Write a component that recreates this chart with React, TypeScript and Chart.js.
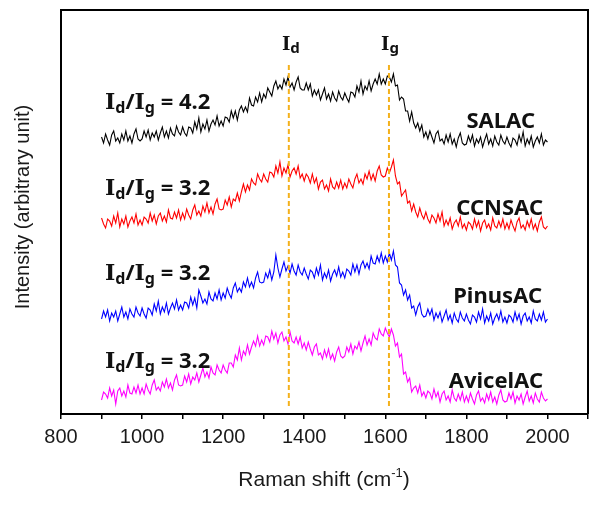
import React, { useEffect, useRef } from 'react';
import { Chart, registerables } from 'chart.js';

Chart.register(...registerables);

// Raman shift grid (cm-1), 5 cm-1 steps
const ramanShift = [
  900, 905, 910, 915, 920, 925, 930, 935, 940, 945, 950, 955, 960, 965, 970, 975, 980, 985, 990, 995,
  1000, 1005, 1010, 1015, 1020, 1025, 1030, 1035, 1040, 1045, 1050, 1055, 1060, 1065, 1070, 1075, 1080, 1085, 1090, 1095,
  1100, 1105, 1110, 1115, 1120, 1125, 1130, 1135, 1140, 1145, 1150, 1155, 1160, 1165, 1170, 1175, 1180, 1185, 1190, 1195,
  1200, 1205, 1210, 1215, 1220, 1225, 1230, 1235, 1240, 1245, 1250, 1255, 1260, 1265, 1270, 1275, 1280, 1285, 1290, 1295,
  1300, 1305, 1310, 1315, 1320, 1325, 1330, 1335, 1340, 1345, 1350, 1355, 1360, 1365, 1370, 1375, 1380, 1385, 1390, 1395,
  1400, 1405, 1410, 1415, 1420, 1425, 1430, 1435, 1440, 1445, 1450, 1455, 1460, 1465, 1470, 1475, 1480, 1485, 1490, 1495,
  1500, 1505, 1510, 1515, 1520, 1525, 1530, 1535, 1540, 1545, 1550, 1555, 1560, 1565, 1570, 1575, 1580, 1585, 1590, 1595,
  1600, 1605, 1610, 1615, 1620, 1625, 1630, 1635, 1640, 1645, 1650, 1655, 1660, 1665, 1670, 1675, 1680, 1685, 1690, 1695,
  1700, 1705, 1710, 1715, 1720, 1725, 1730, 1735, 1740, 1745, 1750, 1755, 1760, 1765, 1770, 1775, 1780, 1785, 1790, 1795,
  1800, 1805, 1810, 1815, 1820, 1825, 1830, 1835, 1840, 1845, 1850, 1855, 1860, 1865, 1870, 1875, 1880, 1885, 1890, 1895,
  1900, 1905, 1910, 1915, 1920, 1925, 1930, 1935, 1940, 1945, 1950, 1955, 1960, 1965, 1970, 1975, 1980, 1985, 1990, 1995,
  2000,
];

// Offset intensities (arbitrary unit)
const salac = [
  277, 271, 280, 274, 269, 279, 283, 273, 276, 271, 280, 274, 283, 273, 278, 271, 280, 285, 275, 273,
  275, 283, 277, 284, 274, 281, 277, 283, 274, 281, 287, 277, 283, 276, 286, 280, 278, 288, 282, 279,
  287, 281, 278, 287, 286, 281, 292, 285, 296, 282, 290, 285, 294, 283, 290, 294, 289, 298, 288, 293,
  288, 297, 296, 292, 303, 296, 303, 294, 304, 308, 302, 307, 302, 316, 309, 308, 317, 312, 321, 312,
  320, 316, 326, 322, 318, 328, 333, 325, 329, 325, 335, 329, 337, 327, 331, 324, 332, 337, 326, 324,
  324, 331, 324, 330, 318, 324, 319, 324, 314, 320, 326, 315, 320, 313, 322, 316, 313, 323, 317, 314,
  321, 316, 312, 322, 321, 317, 328, 322, 333, 320, 328, 324, 333, 323, 330, 335, 330, 340, 330, 335,
  330, 338, 337, 332, 340, 328, 329, 314, 317, 315, 303, 303, 293, 302, 291, 286, 291, 283, 289, 277,
  282, 275, 283, 277, 271, 280, 283, 273, 275, 270, 279, 272, 280, 270, 275, 267, 276, 281, 271, 269,
  270, 278, 272, 279, 268, 275, 271, 277, 267, 274, 280, 270, 275, 268, 278, 272, 269, 279, 273, 270,
  277, 271, 267, 276, 274, 269, 279, 272, 282, 268, 275, 270, 278, 267, 273, 277, 271, 280, 269, 274,
  272,
];

const ccnsac = [
  196, 190, 186, 195, 193, 188, 198, 191, 201, 187, 195, 190, 198, 187, 193, 197, 191, 200, 189, 194,
  189, 197, 195, 191, 201, 193, 199, 190, 198, 201, 193, 198, 192, 204, 196, 195, 202, 196, 204, 194,
  201, 195, 205, 199, 195, 204, 209, 199, 203, 198, 208, 202, 211, 201, 207, 200, 210, 215, 205, 204,
  205, 214, 209, 217, 207, 215, 213, 221, 213, 222, 230, 222, 229, 224, 235, 231, 229, 240, 235, 232,
  240, 235, 232, 242, 241, 237, 248, 241, 252, 238, 246, 241, 249, 237, 243, 246, 240, 248, 236, 240,
  233, 240, 237, 231, 240, 231, 236, 225, 232, 234, 225, 229, 223, 235, 227, 225, 232, 226, 234, 225,
  231, 226, 235, 230, 226, 235, 240, 231, 235, 230, 240, 235, 243, 234, 240, 233, 243, 248, 239, 237,
  238, 246, 241, 247, 254, 238, 230, 232, 218, 221, 224, 211, 213, 203, 210, 202, 197, 206, 199, 195,
  202, 195, 191, 199, 196, 191, 200, 193, 202, 188, 194, 189, 196, 185, 191, 194, 188, 197, 186, 190,
  184, 192, 190, 185, 195, 187, 193, 183, 191, 194, 186, 190, 184, 196, 188, 186, 193, 187, 195, 185,
  191, 185, 194, 188, 183, 192, 196, 186, 189, 184, 193, 187, 195, 185, 190, 183, 192, 197, 187, 185,
  188,
];

const pinusac = [
  95, 103, 97, 104, 93, 101, 97, 103, 93, 100, 107, 97, 102, 95, 105, 100, 97, 107, 101, 98,
  106, 100, 96, 106, 104, 99, 110, 103, 113, 100, 107, 102, 111, 100, 106, 111, 105, 114, 104, 109,
  104, 112, 111, 106, 117, 109, 116, 106, 124, 118, 111, 115, 110, 122, 115, 113, 121, 115, 124, 114,
  121, 116, 126, 120, 116, 126, 131, 122, 126, 122, 132, 127, 136, 127, 132, 126, 136, 142, 132, 131,
  132, 141, 136, 144, 134, 142, 159, 146, 137, 145, 152, 143, 148, 141, 150, 143, 139, 149, 142, 139,
  146, 140, 135, 144, 142, 136, 146, 139, 149, 134, 141, 136, 144, 133, 140, 144, 138, 147, 137, 142,
  136, 145, 143, 139, 150, 142, 149, 140, 149, 153, 146, 151, 145, 158, 151, 150, 158, 152, 161, 151,
  158, 152, 161, 154, 163, 149, 147, 131, 129, 119, 124, 114, 119, 106, 108, 99, 107, 111, 100, 97,
  98, 105, 99, 105, 94, 101, 96, 102, 92, 98, 104, 94, 99, 91, 101, 95, 92, 102, 96, 93,
  100, 94, 90, 99, 97, 92, 102, 95, 105, 91, 98, 93, 101, 90, 96, 100, 94, 103, 92, 97,
  91, 99, 97, 92, 102, 94, 100, 90, 98, 101, 93, 97, 91, 103, 95, 93, 100, 94, 102, 92,
  95,
];

const avicelac = [
  14, 22, 20, 16, 26, 18, 24, 10, 23, 26, 18, 23, 17, 29, 21, 20, 27, 21, 29, 20,
  26, 20, 30, 24, 20, 29, 34, 24, 27, 23, 32, 27, 35, 26, 31, 24, 34, 39, 29, 28,
  29, 38, 32, 40, 30, 37, 34, 41, 32, 39, 46, 37, 42, 36, 47, 41, 39, 49, 44, 41,
  49, 44, 41, 51, 51, 47, 59, 54, 66, 54, 63, 59, 69, 60, 67, 73, 68, 78, 68, 74,
  69, 78, 77, 72, 83, 75, 81, 71, 79, 82, 73, 77, 70, 82, 73, 71, 77, 70, 77, 66,
  71, 64, 72, 65, 59, 67, 70, 59, 61, 55, 64, 57, 65, 55, 60, 53, 62, 67, 58, 56,
  58, 67, 62, 70, 60, 68, 65, 72, 63, 71, 78, 69, 75, 69, 81, 76, 74, 85, 80, 78,
  86, 81, 77, 85, 79, 68, 71, 57, 60, 40, 42, 32, 36, 22, 26, 28, 21, 29, 18, 22,
  16, 23, 21, 15, 25, 17, 22, 12, 20, 23, 14, 18, 12, 24, 16, 13, 20, 14, 22, 12,
  18, 12, 21, 15, 10, 19, 23, 13, 16, 11, 20, 14, 22, 12, 17, 10, 19, 24, 14, 12,
  13, 21, 15, 22, 11, 18, 14, 20, 10, 17, 23, 13, 18, 11, 21, 15, 12, 22, 16, 13,
  15,
];

const seriesNames = ['SALAC', 'CCNSAC', 'PinusAC', 'AvicelAC'];
const seriesColors = ['#000000', '#ff0000', '#0000ff', '#ff00ff'];
const ratioLabels = ['4.2', '3.2', '3.2', '3.2'];

// Peak positions (cm-1) and dashed guide extent (intensity units)
const peakD = 1362;
const peakG = 1609;
const guideTop = 349;
const guideBottom = 7;

const xTickLabels = [800, 1000, 1200, 1400, 1600, 1800, 2000];

type Part = { t: string; font: string; dy?: number };

function drawRich(ctx: CanvasRenderingContext2D, parts: Part[], x: number, y: number, align: 'left' | 'right' | 'center') {
  let total = 0;
  const widths = parts.map((p) => {
    ctx.font = p.font;
    const w = ctx.measureText(p.t).width;
    total += w;
    return w;
  });
  let cx = x;
  if (align === 'right') cx = x - total;
  if (align === 'center') cx = x - total / 2;
  ctx.textAlign = 'left';
  ctx.textBaseline = 'alphabetic';
  parts.forEach((p, i) => {
    ctx.font = p.font;
    ctx.fillText(p.t, cx, y + (p.dy || 0));
    cx += widths[i];
  });
}

const BIG = 'bold 22px "Noto Sans"';
const SUB = 'bold 16px "Noto Sans"';
const IFONT = 'bold 22px "DejaVu Serif"';

const decorPlugin = {
  id: 'decor',
  afterDraw(chart: any) {
    const ctx: CanvasRenderingContext2D = chart.ctx;
    const a = chart.chartArea;
    ctx.save();
    ctx.strokeStyle = '#000';
    ctx.lineWidth = 2;
    ctx.beginPath();
    ctx.moveTo(a.left, a.top);
    ctx.lineTo(a.right, a.top);
    ctx.lineTo(a.right, a.bottom);
    ctx.stroke();

    ctx.fillStyle = '#111';
    const ratioBase = [109, 195, 280, 368];
    ratioLabels.forEach((r, i) => {
      drawRich(ctx, [
        { t: 'I', font: IFONT },
        { t: 'd', font: SUB, dy: 4 },
        { t: '/', font: BIG },
        { t: 'I', font: IFONT },
        { t: 'g', font: SUB, dy: 4 },
        { t: ' = ' + r, font: BIG },
      ], 105, ratioBase[i], 'left');
    });
    const nameBase = [128, 215, 303, 388];
    const nameRight = [535, 543, 542, 543];
    seriesNames.forEach((n, i) => {
      drawRich(ctx, [{ t: n, font: BIG }], nameRight[i], nameBase[i], 'right');
    });
    const xs = chart.scales.x;
    drawRich(ctx, [
      { t: 'I', font: 'bold 18px "DejaVu Serif"' },
      { t: 'd', font: 'bold 15px "Noto Sans"', dy: 3 },
    ], xs.getPixelForValue(peakD) + 2, 50, 'center');
    drawRich(ctx, [
      { t: 'I', font: 'bold 18px "DejaVu Serif"' },
      { t: 'g', font: 'bold 15px "Noto Sans"', dy: 3 },
    ], xs.getPixelForValue(peakG) + 1, 50, 'center');

    ctx.fillStyle = '#1a1a1a';
    drawRich(ctx, [
      { t: 'Raman shift (cm', font: '21px "Liberation Sans"' },
      { t: '-1', font: '13px "Liberation Sans"', dy: -9 },
      { t: ')', font: '21px "Liberation Sans"' },
    ], 324, 486, 'center');
    ctx.translate(29, 207);
    ctx.rotate(-Math.PI / 2);
    drawRich(ctx, [{ t: 'Intensity (arbitrary unit)', font: '20px "Liberation Sans"' }], 0, 0, 'center');
    ctx.restore();
  },
};

export default function App() {
  const ref = useRef<HTMLCanvasElement>(null);
  useEffect(() => {
    if (!ref.current) return;
    const spectra = [salac, ccnsac, pinusac, avicelac];
    const guide = (x: number) => ({
      data: [{ x, y: guideTop }, { x, y: guideBottom }],
      borderColor: '#f4b11c',
      borderWidth: 2,
      borderDash: [5, 3],
      pointRadius: 0,
      fill: false,
    });
    const chart = new Chart(ref.current, {
      type: 'line',
      data: {
        datasets: [
          guide(peakD),
          guide(peakG),
          ...spectra.map((s, i) => ({
            label: seriesNames[i],
            data: s.map((v, j) => ({ x: ramanShift[j], y: v })),
            borderColor: seriesColors[i],
            borderWidth: 1.1,
            pointRadius: 0,
            tension: 0,
            fill: false,
          })),
        ],
      },
      plugins: [decorPlugin],
      options: {
        animation: false,
        responsive: false,
        events: [],
        layout: { padding: { left: 61, right: 12, top: 10, bottom: 0 } },
        plugins: { legend: { display: false }, tooltip: { enabled: false } },
        scales: {
          x: {
            type: 'linear',
            min: 800,
            max: 2100,
            afterFit: (s: any) => { s.height = 94; },
            border: { display: true, color: '#000', width: 2 },
            grid: { drawOnChartArea: false, drawTicks: true, tickLength: 5, color: '#000', lineWidth: 1.5 },
            ticks: {
              stepSize: 100,
              padding: 6,
              color: '#1a1a1a',
              font: { family: '"Liberation Sans"', size: 20 },
              maxRotation: 0,
              autoSkip: false,
              callback: (v: any) => (xTickLabels.includes(Number(v)) ? String(v) : ''),
            },
          },
          y: {
            type: 'linear',
            min: 0,
            max: 404,
            afterFit: (s: any) => { s.width = 0; },
            border: { display: true, color: '#000', width: 2 },
            grid: { display: false, drawTicks: false },
            ticks: { display: false },
          },
        },
      } as any,
    });
    return () => chart.destroy();
  }, []);
  return (
    <div style={{ position: 'fixed', left: 0, top: 0, width: 600, height: 508, background: '#fff' }}>
      <canvas ref={ref} width={600} height={508} style={{ width: 600, height: 508 }} />
    </div>
  );
}
